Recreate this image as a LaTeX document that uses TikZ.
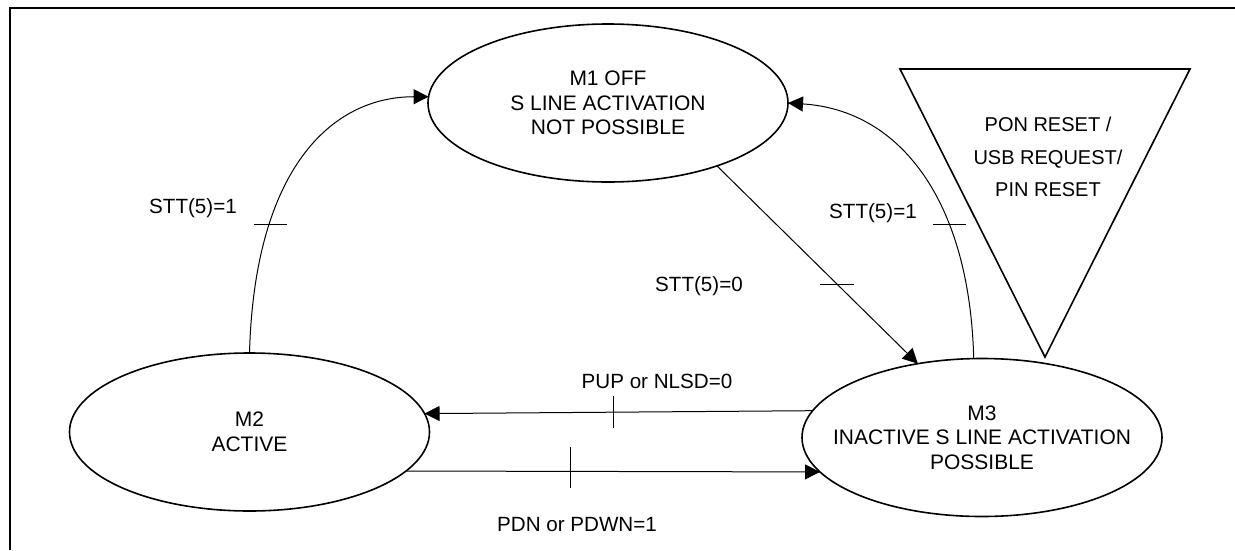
\documentclass[tikz,border=0pt]{standalone}
\usepackage{fontspec}
\setmainfont{Liberation Sans}
\usetikzlibrary{arrows.meta,shapes.geometric}

\tikzset{
    state/.style={ellipse, draw, line width=1.6pt, minimum width=360pt, minimum height=158pt, inner sep=0pt, outer sep=0pt},
    statetext/.style={align=center, font=\fontsize{21}{24.5}\selectfont},
    lbl/.style={font=\fontsize{20.6}{22}\selectfont, inner sep=0pt},
    trans/.style={line width=1pt, -{Triangle[length=15pt,width=15pt]}},
    tickmark/.style={line width=1.3pt},
    frame/.style={line width=1.6pt},
}

\begin{document}
\begin{tikzpicture}[x=1pt,y=-1pt]
    % page and outer frame
    \useasboundingbox (0,0) rectangle (1235,550);
    \draw[frame] (10,550) -- (10,8) -- (1235,8);

    % States
    \node[state] (m1) at (608,103) {};
    \node[statetext] (m1text) at (m1) {M1 OFF\\S LINE ACTIVATION\\NOT POSSIBLE};
    \node[state] (m2) at (249.5,432) {};
    \node[statetext] (m2text) at (m2) {M2\\ACTIVE};
    \node[state] (m3) at (982,437.5) {};
    \node[statetext] (m3text) at (m3) {M3\\INACTIVE S LINE ACTIVATION\\POSSIBLE};

    % Reset triangle
    \draw[line width=1.6pt] (900,69) -- (1190,69) -- (1045,357) -- cycle;
    \node[statetext, font=\fontsize{20}{32.5}\selectfont] (reset) at (1048,157) {PON RESET /\\USB REQUEST/\\PIN RESET};

    % M2 -> M1
    \draw[trans] (m2.north) .. controls +(5,-183) and +(-98,0) .. (m1.178)
        coordinate[pos=0.28] (c21);
    \draw[tickmark] ([xshift=-15pt]c21) -- ([xshift=18pt]c21);
    \node[lbl] (l21) at (193,208) {STT(5)=1};

    % M1 -> M3
    \draw[trans] (m1.-30) -- (m3.131) coordinate[pos=0.6] (c13);
    \draw[tickmark] ([xshift=-17pt]c13) -- ([xshift=17pt]c13);
    \node[lbl] (l13) at (699,286) {STT(5)=0};

    % M3 -> M1
    \draw[trans] (m3.96) .. controls +(-4,-158) and +(112,7) .. (m1.east)
        coordinate[pos=0.33] (c31);
    \draw[tickmark] ([xshift=-16pt]c31) -- ([xshift=17pt]c31);
    \node[lbl] (l31) at (873,213) {STT(5)=1};

    % M3 -> M2
    \draw[trans] (m3.171.5) -- (m2.6.6) coordinate[pos=0.514] (c32);
    \draw[tickmark] ([yshift=-16pt]c32) -- ([yshift=16pt]c32);
    \node[lbl] (l32) at (657,381) {PUP or NLSD=0};

    % M2 -> M3
    \draw[trans] (m2.-14.5) -- (m3.192) coordinate[pos=0.398] (c23);
    \draw[tickmark] ([yshift=-17pt]c23) -- ([yshift=24pt]c23);
    \node[lbl] (l23) at (577,525) {PDN or PDWN=1};
\end{tikzpicture}
\end{document}
